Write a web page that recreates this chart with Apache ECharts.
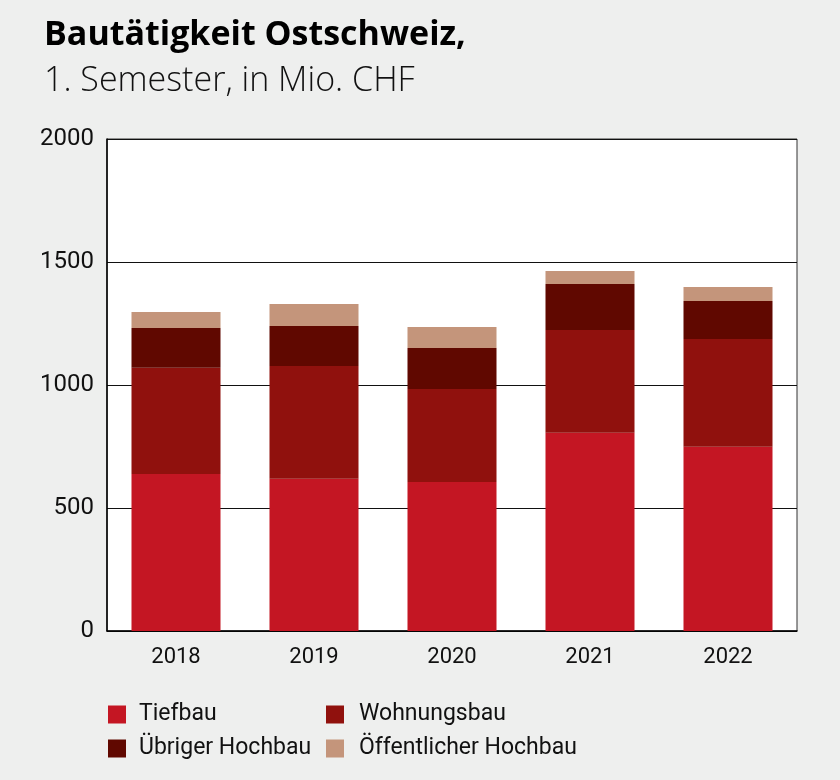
<!DOCTYPE html>
<html><head><meta charset="utf-8">
<script src="https://cdn.jsdelivr.net/npm/echarts@6/dist/echarts.min.js"></script>
<style>html,body{margin:0;padding:0;background:#eeefee;}#c{width:840px;height:780px;}</style>
</head><body><div id="c"></div>
<script>
const categories = ['2018','2019','2020','2021','2022'];
const tiefbau = [638, 619, 606, 806, 749];
const wohnungsbau = [432, 458, 378, 418, 438];
const uebrigerHochbau = [162, 163, 166, 187, 154];
const oeffentlicherHochbau = [65, 89, 86, 52, 57];
const yTicks = [0, 500, 1000, 1500, 2000];

const names = ['Tiefbau','Wohnungsbau','Übriger Hochbau','Öffentlicher Hochbau'];
const colors = ['#c41623','#90110d','#600800','#c4957b'];
const data = [tiefbau, wohnungsbau, uebrigerHochbau, oeffentlicherHochbau];
const cond = 'Roboto, sans-serif';
const legendPos = [[103,698,8],[321,698,10],[103,732,8],[321,732,10]];

const chart = echarts.init(document.getElementById('c'));
chart.setOption({
  backgroundColor: '#eeefee',
  animation: false,
  title: [
    {text: 'Bautätigkeit Ostschweiz,', left: 39, top: 13,
     textStyle: {fontFamily: '"Open Sans", sans-serif', fontWeight: 'bold', fontSize: 34, color: '#000'}},
    {text: '1. Semester, in Mio. CHF', left: 39, top: 59,
     textStyle: {fontFamily: '"Open Sans", sans-serif', fontWeight: 300, fontSize: 34, color: '#111'}}
  ],
  legend: legendPos.map((p, i) => ({
    data: [names[i]], left: p[0], top: p[1], itemWidth: 18, itemHeight: 18, itemGap: 8,
    icon: 'rect', selectedMode: false,
    textStyle: {fontFamily: cond, fontSize: 23, color: '#111', padding: [0,0,0,p[2]]}
  })),
  grid: {left: 107, right: 43, top: 139, bottom: 149, show: true, backgroundColor: '#fff',
         borderColor: '#333', borderWidth: 1},
  xAxis: {type: 'category', data: categories,
    axisLine: {lineStyle: {color: '#000', width: 1.5}}, axisTick: {show: false},
    axisLabel: {fontFamily: cond, fontSize: 22, color: '#111', margin: 15}},
  yAxis: {type: 'value', min: yTicks[0], max: yTicks[yTicks.length-1], interval: 500,
    axisLine: {show: true, lineStyle: {color: '#000', width: 1.5}}, axisTick: {show: false},
    axisLabel: {fontFamily: cond, fontSize: 24, color: '#111', margin: 13,
      formatter: v => String(v)},
    splitLine: {lineStyle: {color: '#111', width: 1}}},
  series: names.map((n, i) => ({
    name: n, type: 'bar', stack: 'a', data: data[i], barWidth: '64.5%',
    itemStyle: {color: colors[i]}
  }))
});
</script></body></html>
